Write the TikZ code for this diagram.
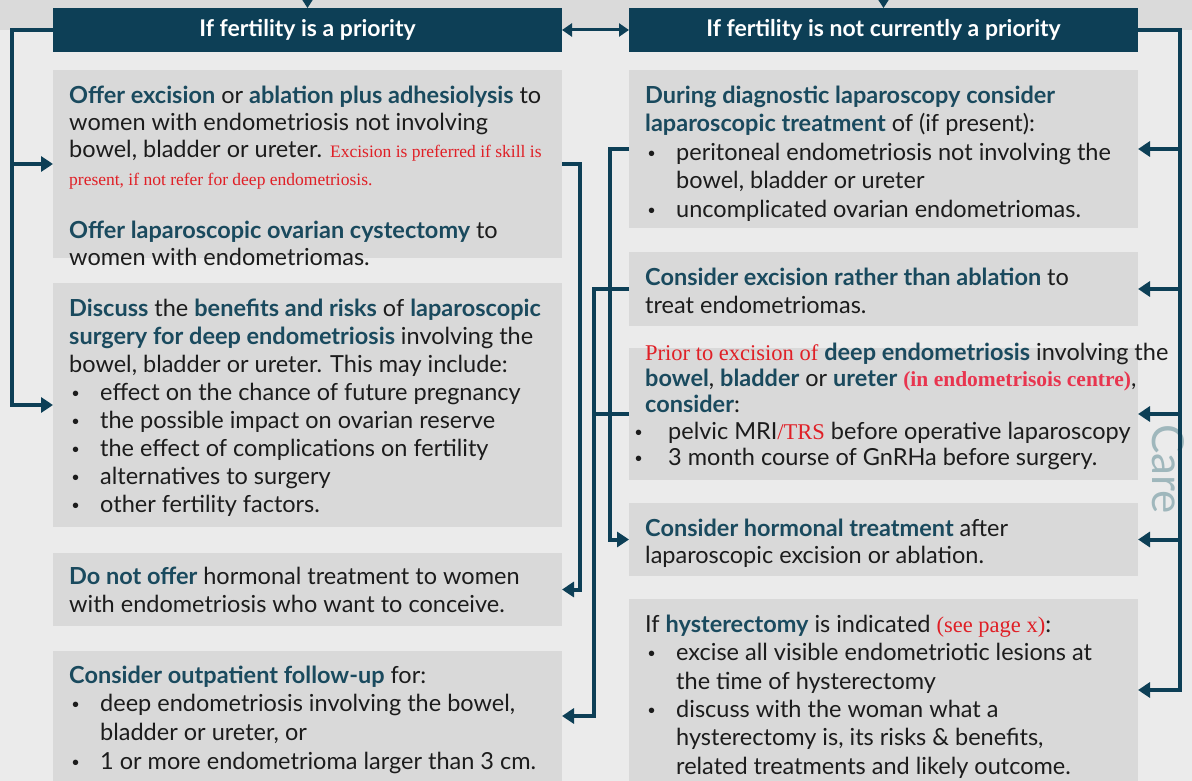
\documentclass[tikz,border=0pt]{standalone}
\usepackage{fontspec}
\setmainfont{Lato}
\newfontfamily\rserif{Liberation Serif}
\newfontfamily\bulfont{Liberation Sans}
\usetikzlibrary{arrows.meta,positioning}

\definecolor{hdrblue}{HTML}{0D3F56}
\definecolor{tealtxt}{HTML}{1A4A5E}
\definecolor{bodytxt}{HTML}{1C1C1C}
\definecolor{redtxt}{HTML}{E01F26}
\definecolor{pinktxt}{HTML}{E8354F}
\definecolor{boxgray}{HTML}{D9D9D9}
\definecolor{bggray}{HTML}{EBEBEB}
\definecolor{bandgray}{HTML}{DADADA}
\definecolor{caregray}{HTML}{9FB7BC}

\newcommand\tb[1]{{\color{tealtxt}\bfseries #1}}
\newcommand\rs[1]{{\rserif\fontsize{22.5}{28}\selectfont\color{redtxt}#1}}
\newcommand\rss[1]{{\rserif\fontsize{17.5}{28}\selectfont\color{redtxt}#1}}
\newcommand\rsb[1]{{\rserif\bfseries\fontsize{21.5}{28}\selectfont\color{pinktxt}#1}}
\newcommand\fl{\rule{0pt}{20pt}}
\newcommand\bul{\makebox[31pt][l]{\hspace{3pt}{\bulfont\fontsize{20}{20}\selectfont •}}}
\newcommand\bulr{\makebox[23pt][l]{\hspace{-10pt}{\bulfont\fontsize{20}{20}\selectfont •}}}
\newcommand\ind{\hspace*{31pt}}

\tikzset{
  hdr/.style={fill=hdrblue, text=white, minimum width=509pt, minimum height=44pt,
    inner sep=0pt, outer sep=0pt, font=\fontsize{23}{27}\selectfont\bfseries},
  cbox/.style={fill=boxgray, minimum width=509pt, anchor=north west,
    inner sep=0pt, outer sep=0pt},
  ctext/.style={anchor=north west, inner sep=0pt, align=left, text=bodytxt,
    xshift=16pt, yshift=-13pt},
  sz/.style={font=\fontsize{23.5}{#1}\selectfont},
  bus/.style={draw=hdrblue, line width=4pt},
  conn/.style={bus, -{Triangle[length=12pt,width=15pt]}},
}

\begin{document}
\begin{tikzpicture}[x=1pt, y=-1pt]
  \useasboundingbox (0,0) rectangle (1192,781);
  \fill[bggray] (0,0) rectangle (1192,781);
  \fill[bandgray] (0,0) rectangle (1192,30);

  % headers
  \node[hdr] (hL) at (307.5,30) {If fertility is a priority};
  \node[hdr] (hR) at (883.5,30) {If fertility is not currently a priority};
  \coordinate (topL) at (307.5,0);
  \coordinate (topR) at (883.5,0);
  \draw[draw=hdrblue, line width=1.5pt, -{Triangle[length=8pt,width=10pt]}] (topL) -- (hL.north);
  \draw[draw=hdrblue, line width=1.5pt, -{Triangle[length=8pt,width=10pt]}] (topR) -- (hR.north);
  \draw[draw=hdrblue, line width=3pt, {Triangle[length=10pt,width=13pt]}-{Triangle[length=10pt,width=13pt]}] (hL.east) -- (hR.west);

  % left column
  \node[cbox, minimum height=188pt] (L1) at (53,70) {};
  \node[cbox, minimum height=244pt] (L2) at (53,283) {};
  \node[cbox, minimum height=73pt] (L3) at (53,553) {};
  \node[cbox, minimum height=130pt] (L4) at (53,651) {};

  % right column
  \node[cbox, minimum height=158pt] (R1) at (629,70) {};
  \node[cbox, minimum height=74pt] (R2) at (629,252) {};
  \node[cbox, minimum height=132pt] (R3) at (629,348) {};
  \node[cbox, minimum height=73pt] (R4) at (629,503) {};
  \node[cbox, minimum height=182pt] (R5) at (629,599) {};

  % texts
  \node[ctext, sz=27.3] (L1t) at (L1.north west) {\fl\tb{Offer excision} or \tb{ablation plus adhesiolysis} to\\
    women with endometriosis not involving\\
    bowel, bladder or ureter. \rss{Excision is preferred if skill is}\\
    \rss{present, if not refer for deep endometriosis.}\\[26pt]
    \tb{Offer laparoscopic ovarian cystectomy} to\\
    women with endometriomas.};
  \node[ctext, sz=28.1] (L2t) at (L2.north west) {\fl\tb{Discuss} the \tb{benefits and risks} of \tb{laparoscopic}\\
    \tb{surgery for deep endometriosis} involving the\\
    bowel, bladder or ureter. This may include:\\
    \bul effect on the chance of future pregnancy\\
    \bul the possible impact on ovarian reserve\\
    \bul the effect of complications on fertility\\
    \bul alternatives to surgery\\
    \bul other fertility factors.};
  \node[ctext, sz=28, yshift=2pt] (L3t) at (L3.north west) {\fl\tb{Do not offer} hormonal treatment to women\\
    with endometriosis who want to conceive.};
  \node[ctext, sz=28.7, yshift=1pt] (L4t) at (L4.north west) {\fl\tb{Consider outpatient follow-up} for:\\
    \bul deep endometriosis involving the bowel,\\
    \ind bladder or ureter, or\\
    \bul 1 or more endometrioma larger than 3 cm.};

  \node[ctext, sz=28.5] (R1t) at (R1.north west) {\fl\tb{During diagnostic laparoscopy consider}\\
    \tb{laparoscopic treatment} of (if present):\\
    \bul peritoneal endometriosis not involving the\\
    \ind bowel, bladder or ureter\\
    \bul uncomplicated ovarian endometriomas.};
  \node[ctext, sz=28] (R2t) at (R2.north west) {\fl\tb{Consider excision rather than ablation} to\\
    treat endometriomas.};
  \node[ctext, sz=26.3, yshift=21pt] (R3t) at (R3.north west) {\fl\rs{Prior to excision of} \tb{deep endometriosis} involving the\\
    \tb{bowel}, \tb{bladder} or \tb{ureter} \rsb{(in endometrisois centre)},\\
    \tb{consider}:\\
    \bulr pelvic MRI\rs{/TRS} before operative laparoscopy\\
    \bulr 3 month course of GnRHa before surgery.};
  \node[ctext, sz=27] (R4t) at (R4.north west) {\fl\tb{Consider hormonal treatment} after\\
    laparoscopic excision or ablation.};
  \node[ctext, sz=28.4] (R5t) at (R5.north west) {\fl If \tb{hysterectomy} is indicated \rs{(see page x)}:\\
    \bul excise all visible endometriotic lesions at\\
    \ind the time of hysterectomy\\
    \bul discuss with the woman what a\\
    \ind hysterectomy is, its risks \& benefits,\\
    \ind related treatments and likely outcome.};

  \node[rotate=-90, text=caregray, inner sep=0pt, font=\fontsize{44}{44}\selectfont] (care) at (1168,469) {Care};

  % left loop
  \draw[conn] (hL.west) -- ++(-41,0) |- (L2.west);
  \draw[conn] ([xshift=-41pt]L1.west) -- (L1.west);

  % right loop
  \draw[conn] (hR.east) -- ++(42,0) |- (R5.east);
  \foreach \n in {R1,R2,R3,R4}
    \draw[conn] ([xshift=42pt]\n.east) -- (\n.east);

  % middle links
  \draw[conn] (L1.east) -- ++(18,0) |- (L3.east);
  \draw[conn] (R1.west) -- ++(-19,0) |- (R4.west);
  \draw[conn] (R2.west) -- ++(-35,0) |- (L4.east);
  \draw[bus] (R3.west) -- ++(-37,0);
\end{tikzpicture}
\end{document}
